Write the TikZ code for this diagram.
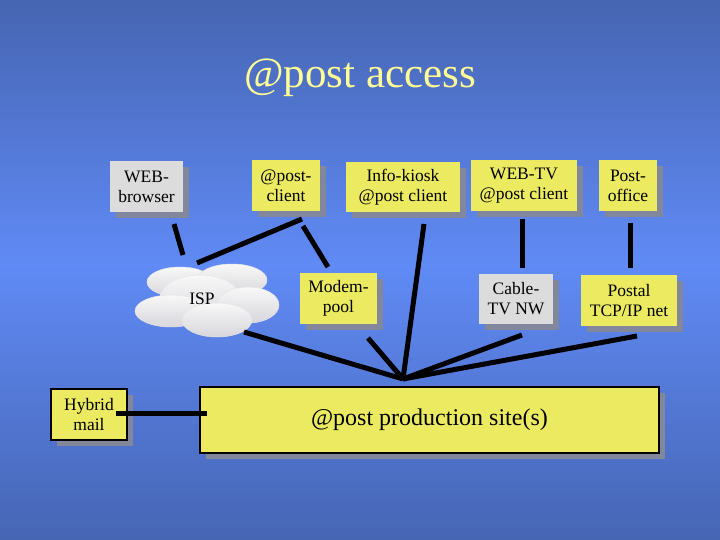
\documentclass[tikz,border=0pt]{standalone}
\usepackage{fontspec}
\setmainfont{Liberation Serif}
\usetikzlibrary{shadows,calc}
\definecolor{bgtop}{RGB}{70,101,178}
\definecolor{bgmid}{RGB}{96,138,245}
\definecolor{bgbot}{RGB}{70,102,180}
\definecolor{boxyellow}{RGB}{236,234,96}
\definecolor{boxgray}{RGB}{220,220,220}
\definecolor{shadowc}{RGB}{130,135,155}
\definecolor{titlec}{RGB}{255,255,150}
\definecolor{cloudtop}{RGB}{248,248,248}
\definecolor{cloudbot}{RGB}{215,215,220}
\tikzset{
  basebox/.style={rectangle, inner sep=0pt, align=center,
    font=\fontsize{17.5}{20}\selectfont,
    drop shadow={shadow xshift=6pt, shadow yshift=-6pt, fill=shadowc, opacity=1}},
  ybox/.style={basebox, fill=boxyellow},
  gbox/.style={basebox, fill=boxgray},
  bbox/.style={basebox, fill=boxyellow, draw=black, line width=2pt},
  conn/.style={line width=5pt, black},
  lobe/.style={top color=cloudtop, bottom color=cloudbot, draw=white!80!gray, line width=0.5pt}
}
\begin{document}
\begin{tikzpicture}[x=1pt,y=-1pt]
\useasboundingbox (0,0) rectangle (720,540);
\shade[top color=bgtop, bottom color=bgmid] (0,0) rectangle (720,265);
\shade[top color=bgmid, bottom color=bgbot] (0,265) rectangle (720,540);

\node[text=titlec, font=\fontsize{43}{48}\selectfont] (title) at (360,78) {@post access};

% top row
\node[gbox, minimum width=73pt, minimum height=51pt] (browser) at (146.5,186.5) {WEB-\\browser};
\node[ybox, minimum width=68pt, minimum height=51pt] (pclient) at (286,185.5) {@post-\\client};
\node[ybox, minimum width=114pt, minimum height=50pt] (kiosk) at (403,187) {Info-kiosk\\@post client};
\node[ybox, minimum width=106pt, minimum height=51pt] (webtv) at (524,185.5) {WEB-TV\\@post client};
\node[ybox, minimum width=58pt, minimum height=51pt] (poffice) at (628,185.5) {Post-\\office};

% middle row
\node[ybox, minimum width=77pt, minimum height=51pt] (modem) at (338.5,298.5) {Modem-\\pool};
\node[gbox, minimum width=74pt, minimum height=50pt] (cable) at (516,299) {Cable-\\TV NW};
\node[ybox, minimum width=96pt, minimum height=51pt] (postal) at (629,300.5) {Postal\\TCP/IP net};

% cloud
\shade[lobe] (180,282) ellipse [x radius=33, y radius=15];
\shade[lobe] (232,280) ellipse [x radius=35, y radius=16];
\shade[lobe] (200,298) ellipse [x radius=40, y radius=23];
\shade[lobe] (171,311) ellipse [x radius=36, y radius=16];
\shade[lobe] (248,305) ellipse [x radius=31, y radius=18];
\shade[lobe] (217,320) ellipse [x radius=35, y radius=17];
\node[font=\fontsize{17.5}{20}\selectfont] (isp) at (202,299) {ISP};

% bottom row
\node[bbox, minimum width=76pt, minimum height=51pt] (hybrid) at (89,414.5) {Hybrid\\mail};
\node[bbox, minimum width=459pt, minimum height=66pt, font=\fontsize{24}{28}\selectfont] (prod) at (429.5,420) {@post production site(s)};

% connector end points
\coordinate (hub) at (403,379);
\coordinate (c1a) at (174,224); \coordinate (c1b) at (183,255);
\coordinate (c2a) at (302,219); \coordinate (c2b) at (197,263);
\coordinate (c3a) at (303,226); \coordinate (c3b) at (328,267);
\coordinate (c4a) at (424,224);
\coordinate (c5a) at (522,219); \coordinate (c5b) at (522,268);
\coordinate (c6a) at (630,223); \coordinate (c6b) at (630,268);
\coordinate (c7a) at (244,332);
\coordinate (c8a) at (368,338);
\coordinate (c9a) at (522,335);
\coordinate (c10a) at (637,336);
\coordinate (c11a) at (116,413); \coordinate (c11b) at (207,413);

\draw[conn] (c1a) -- (c1b);
\draw[conn] (c2a) -- (c2b);
\draw[conn] (c3a) -- (c3b);
\draw[conn] (c4a) -- (hub);
\draw[conn] (c5a) -- (c5b);
\draw[conn] (c6a) -- (c6b);
\draw[conn] (c7a) -- (hub);
\draw[conn] (c8a) -- (hub);
\draw[conn] (c9a) -- (hub);
\draw[conn] (c10a) -- (hub);
\draw[conn] (c11a) -- (c11b);
\end{tikzpicture}
\end{document}
